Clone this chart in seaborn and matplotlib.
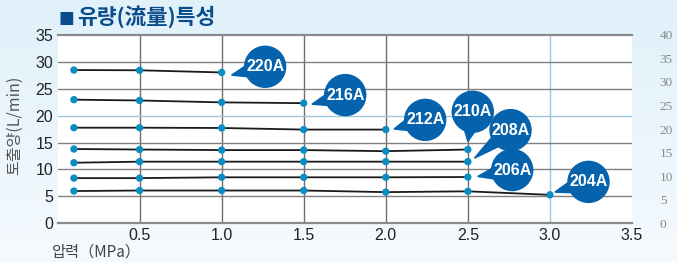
import numpy as np
import pandas as pd
import matplotlib
matplotlib.use("Agg")
import matplotlib.pyplot as plt
from matplotlib.patches import Ellipse, Polygon
import seaborn as sns

# ---- data ----
models = ["204A", "206A", "208A", "210A", "212A", "216A", "220A"]
pressures = {
    "204A": [0.1, 0.5, 1.0, 1.5, 2.0, 2.5, 3.0],
    "206A": [0.1, 0.5, 1.0, 1.5, 2.0, 2.5],
    "208A": [0.1, 0.5, 1.0, 1.5, 2.0, 2.5],
    "210A": [0.1, 0.5, 1.0, 1.5, 2.0, 2.5],
    "212A": [0.1, 0.5, 1.0, 1.5, 2.0],
    "216A": [0.1, 0.5, 1.0, 1.5],
    "220A": [0.1, 0.5, 1.0],
}
flows = {
    "204A": [6.0, 6.1, 6.1, 6.1, 5.8, 5.95, 5.3],
    "206A": [8.4, 8.4, 8.55, 8.55, 8.55, 8.6],
    "208A": [11.25, 11.45, 11.45, 11.45, 11.45, 11.45],
    "210A": [13.8, 13.7, 13.6, 13.6, 13.4, 13.7],
    "212A": [17.75, 17.75, 17.7, 17.4, 17.4],
    "216A": [22.95, 22.8, 22.45, 22.3],
    "220A": [28.45, 28.4, 28.0],
}
x_ticks = [0.5, 1.0, 1.5, 2.0, 2.5, 3.0, 3.5]
x_ticklabels = ["0.5", "1.0", "1.5", "2.0", "2.5", "3.0", "3.5"]
y_ticks = [0, 5, 10, 15, 20, 25, 30, 35]
y2_ticks = [0, 5, 10, 15, 20, 25, 30, 35, 40]
# bubble label centres and tail tips (data coords)
bubble_xy = {
    "220A": (1.265, 29.05), "216A": (1.753, 23.8), "212A": (2.24, 19.2),
    "210A": (2.53, 20.7), "208A": (2.76, 17.3), "206A": (2.77, 9.9),
    "204A": (3.235, 7.7),
}
tail_xy = {
    "220A": (1.06, 27.5), "216A": (1.55, 22.1), "212A": (2.05, 17.5),
    "210A": (2.50, 15.2), "208A": (2.54, 12.1), "206A": (2.56, 8.7),
    "204A": (3.03, 5.8),
}

rows = []
for m in models:
    for p, f in zip(pressures[m], flows[m]):
        rows.append({"model": m, "pressure": p, "flow": f})
df = pd.DataFrame(rows)

sns.set_theme(style="white")
plt.rcParams["font.family"] = ["Liberation Sans", "Noto Sans CJK KR", "DejaVu Sans"]

W, H = 677, 262
fig = plt.figure(figsize=(W / 100, H / 100), dpi=100)

# background gradient
bg = fig.add_axes([0, 0, 1, 1], zorder=-10)
grad = np.linspace(0, 1, 256).reshape(-1, 1)
c_top = np.array([0xE0, 0xF1, 0xFA]) / 255
c_bot = np.array([0xF5, 0xFA, 0xFE]) / 255
img = c_top[None, None, :] * (1 - grad[:, :, None]) + c_bot[None, None, :] * grad[:, :, None]
bg.imshow(img, aspect="auto", extent=[0, 1, 0, 1])
bg.axis("off")

left, right = 57.5 / W, 632 / W
bottom, top = 1 - 223.4 / H, 1 - 34.7 / H
ax = fig.add_axes([left, bottom, right - left, top - bottom])
ax.set_facecolor("white")

palette = {m: "#1a1a1a" for m in models}
sns.lineplot(data=df, x="pressure", y="flow", hue="model", palette=palette,
             linewidth=1.3, legend=False, ax=ax, zorder=3, sort=True,
             estimator=None, units="model")
sns.scatterplot(data=df, x="pressure", y="flow", color="#0A8EC2", s=28,
                edgecolor="none", legend=False, ax=ax, zorder=4)

ax.set_xlim(0, 3.5)
ax.set_ylim(0, 35)
ax.set_xticks(x_ticks)
ax.set_xticklabels(x_ticklabels)
ax.set_yticks(y_ticks)
ax.tick_params(axis="both", length=0, labelsize=11.5, colors="#222222")
ax.tick_params(axis="x", pad=3)
ax.tick_params(axis="y", pad=3)
ax.set_xlabel("")
ax.set_ylabel("")

# grid lines
for xv in x_ticks[:-1]:
    col = "#9CC6DE" if xv == 3.0 else "#6e6e6e"
    ax.axvline(xv, color=col, lw=1.0, zorder=1)
for yv in y_ticks[1:-1]:
    col = "#9CC6DE" if yv == 20 else "#808080"
    ax.axhline(yv, color=col, lw=1.0, zorder=1)
for s in ["left", "right"]:
    ax.spines[s].set_visible(False)
for s in ["top", "bottom"]:
    ax.spines[s].set_color("#8a8a8a")
    ax.spines[s].set_linewidth(1.6)

# right axis
ax2 = ax.twinx()
ax2.set_ylim(0, 40)
ax2.set_yticks(y2_ticks)
ax2.set_yticklabels([str(v) for v in y2_ticks], family=["Liberation Serif", "DejaVu Serif"])
ax2.tick_params(axis="y", length=0, labelsize=9.5, colors="#888888", pad=20)
for s in ax2.spines.values():
    s.set_visible(False)
ax2.grid(False)

# bubbles
rx = 20.5 / (632 - 57.5) * 3.5
ry = 20.5 / (223.4 - 34.7) * 35
for m in models:
    cx, cy = bubble_xy[m]
    tx, ty = tail_xy[m]
    ang = np.arctan2((ty - cy) / ry, (tx - cx) / rx)
    a1, a2 = ang - 0.34, ang + 0.34
    p1 = (cx + rx * 0.9 * np.cos(a1), cy + ry * 0.9 * np.sin(a1))
    p2 = (cx + rx * 0.9 * np.cos(a2), cy + ry * 0.9 * np.sin(a2))
    ax.add_patch(Polygon([p1, (tx, ty), p2], closed=True, color="#0563AE",
                         zorder=5, clip_on=False))
    ax.add_patch(Ellipse((cx, cy), 2 * rx, 2 * ry, color="#0563AE", zorder=6,
                         clip_on=False))
    ax.text(cx, cy, m, color="white", fontsize=11.5, fontweight="bold",
            ha="center", va="center", zorder=7)

# texts
fig.text(59 / W, 1 - 17.5 / H, "■", color="#0B4C8C", fontsize=12,
         ha="left", va="center", family=["DejaVu Sans"])
fig.text(77 / W, 1 - 17 / H, "유량(流量)특성", color="#0B4C8C", fontsize=15.5,
         fontweight="bold", ha="left", va="center", family=["Noto Sans CJK KR"])
fig.text(15 / W, 1 - 125 / H, "토출양(L/min)", color="#555555", fontsize=11.5,
         rotation=90, ha="center", va="center", family=["Noto Sans CJK KR"])
fig.text(52 / W, 1 - 252 / H, "압력（MPa）", color="#444444", fontsize=11,
         ha="left", va="center", family=["Noto Sans CJK KR"])

fig.savefig("out.png", dpi=100)
